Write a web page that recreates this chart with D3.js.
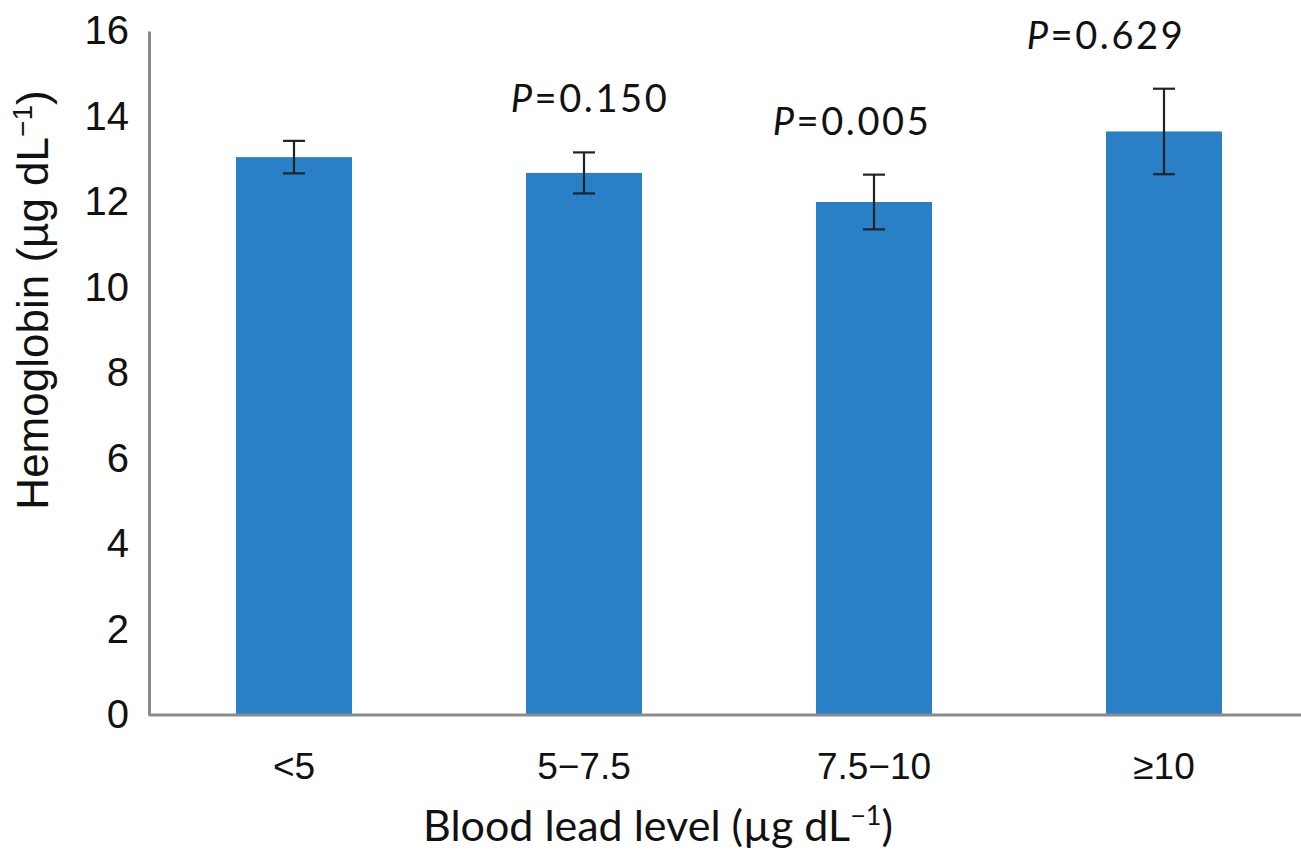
<!DOCTYPE html>
<html>
<head>
<meta charset="utf-8">
<script src="https://cdn.jsdelivr.net/npm/d3@7"></script>
<style>
  body { margin: 0; background: #fff; }
  svg { display: block; }
</style>
</head>
<body>
<script>
// data
var categories = ["<5", "5\u22127.5", "7.5\u221210", "\u226510"];
var means = [13.05, 12.68, 12.0, 13.65];
var errors = [0.38, 0.48, 0.64, 1.0];
var pValues = [null, "0.150", "0.005", "0.629"];
var yTicks = [0, 2, 4, 6, 8, 10, 12, 14, 16];

var width = 1301, height = 855;
var margin = {left: 149, top: 31, bottom: 140};

var svg = d3.select("body").append("svg")
    .attr("width", width).attr("height", height);

// scales
var x = d3.scaleBand()
    .domain(categories)
    .range([margin.left, margin.left + 1160])
    .paddingInner(0.6)
    .paddingOuter(0.3);

var y = d3.scaleLinear()
    .domain([0, 16])
    .range([715, margin.top]);

// bars
svg.selectAll("rect.bar")
    .data(categories)
    .enter().append("rect")
    .attr("class", "bar")
    .attr("x", function(d){ return x(d); })
    .attr("width", x.bandwidth())
    .attr("y", function(d, i){ return y(means[i]); })
    .attr("height", function(d, i){ return y(0) - y(means[i]); })
    .attr("fill", "#2980c7");

// error bars
var capW = 11;
var err = svg.selectAll("g.err")
    .data(categories)
    .enter().append("g")
    .attr("class", "err")
    .attr("stroke", "#222")
    .attr("stroke-width", 2.2);

err.append("line")
    .attr("x1", function(d){ return x(d) + x.bandwidth()/2; })
    .attr("x2", function(d){ return x(d) + x.bandwidth()/2; })
    .attr("y1", function(d, i){ return y(means[i] + errors[i]); })
    .attr("y2", function(d, i){ return y(means[i] - errors[i]); });

[1, -1].forEach(function(s){
  err.append("line")
      .attr("x1", function(d){ return x(d) + x.bandwidth()/2 - capW; })
      .attr("x2", function(d){ return x(d) + x.bandwidth()/2 + capW; })
      .attr("y1", function(d, i){ return y(means[i] + s*errors[i]); })
      .attr("y2", function(d, i){ return y(means[i] + s*errors[i]); });
});

// axes
var yAxis = d3.axisLeft(y).tickValues(yTicks).tickSize(0).tickPadding(20);
var xAxis = d3.axisBottom(x).tickSize(0).tickPadding(38);

var gy = svg.append("g").attr("transform", "translate(" + margin.left + ",0)").call(yAxis);
var gx = svg.append("g").attr("transform", "translate(0," + y(0) + ")").call(xAxis);

gx.select(".domain").attr("d", "M" + margin.left + ",0H" + width);
[gx, gy].forEach(function(g){
  g.select(".domain").attr("stroke", "#8a8a8a").attr("stroke-width", 3);
  g.selectAll("text")
      .attr("font-family", "'Liberation Sans', Arial, sans-serif")
      .attr("font-size", 40)
      .attr("fill", "#111");
});
gx.selectAll("text").attr("font-size", 37);

// P value labels above the error bars
var pDx = [0, 6, -22, -58];
svg.selectAll("text.p")
    .data(categories.filter(function(d, i){ return pValues[i]; }))
    .enter().append("text")
    .attr("class", "p")
    .attr("x", function(d){ var i = categories.indexOf(d); return x(d) + x.bandwidth()/2 + pDx[i]; })
    .attr("y", function(d){ var i = categories.indexOf(d); return y(means[i] + errors[i]) - 40; })
    .attr("text-anchor", "middle")
    .attr("font-family", "Lato, 'Open Sans', sans-serif")
    .attr("font-size", 38)
    .attr("letter-spacing", 2.6)
    .attr("fill", "#111")
    .each(function(d){
      var i = categories.indexOf(d);
      var t = d3.select(this);
      t.append("tspan").attr("font-style", "italic").text("P");
      t.append("tspan").text("=" + pValues[i]);
    });

// y axis title
var yt = svg.append("text")
    .attr("transform", "translate(48,300) rotate(-90)")
    .attr("text-anchor", "middle")
    .attr("font-family", "'Liberation Sans', Arial, sans-serif")
    .attr("font-size", 44)
    .attr("fill", "#111");
yt.append("tspan").text("Hemoglobin (\u00b5g dL");
yt.append("tspan").attr("font-size", 28).attr("dy", -16).text("\u22121");
yt.append("tspan").attr("dy", 16).text(")");

// x axis title
var xt = svg.append("text")
    .attr("x", 658).attr("y", 841)
    .attr("text-anchor", "middle")
    .attr("font-family", "Lato, 'Open Sans', sans-serif")
    .attr("font-size", 43)
    .attr("fill", "#111");
xt.append("tspan").text("Blood lead level (\u00b5g dL");
xt.append("tspan").attr("font-size", 27).attr("dy", -16).text("\u22121");
xt.append("tspan").attr("dy", 16).text(")");
</script>
</body>
</html>
